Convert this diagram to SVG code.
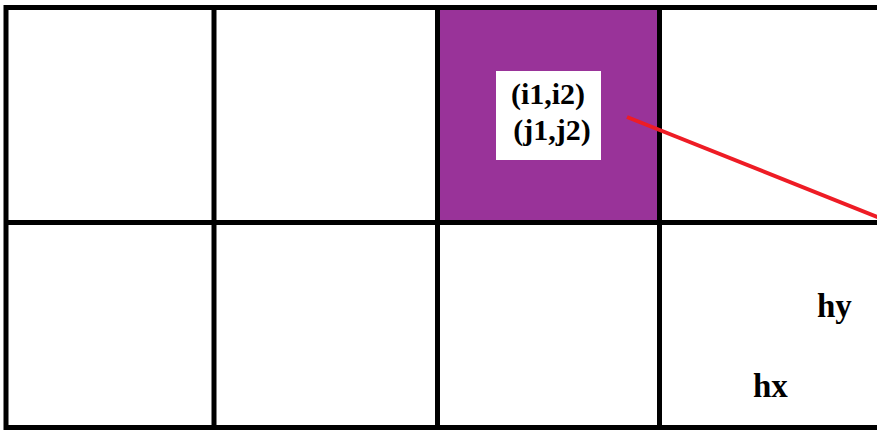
<svg xmlns="http://www.w3.org/2000/svg" width="877" height="432" viewBox="0 0 877 432">
<style>
.grid{stroke:#000;stroke-width:5;fill:none}
.lbl{font-family:"Liberation Serif",serif;font-weight:bold;fill:#000}
</style>
<rect width="877" height="432" fill="#fff"/>
<g id="cell-purple">
<rect x="437.5" y="7.5" width="222" height="215" fill="#993399"/>
<rect x="496" y="71" width="105" height="89" fill="#fff"/>
<text class="lbl" x="548" y="104" font-size="30" text-anchor="middle">(i1,i2)</text>
<text class="lbl" x="552" y="140" font-size="30" text-anchor="middle">(j1,j2)</text>
</g>
<g id="grid">
<path class="grid" d="M6,7.5H877M6,222.5H877M6,427.5H877M6,5V430M214,5V430M437.5,5V430M659.5,5V430"/>
</g>
<g id="labels">
<text class="lbl" x="817" y="317" font-size="33">hy</text>
<text class="lbl" x="753" y="397" font-size="33">hx</text>
</g>
<g id="connectors">
<line x1="627" y1="117" x2="880" y2="218" stroke="#ee1c25" stroke-width="4"/>
</g>
</svg>
